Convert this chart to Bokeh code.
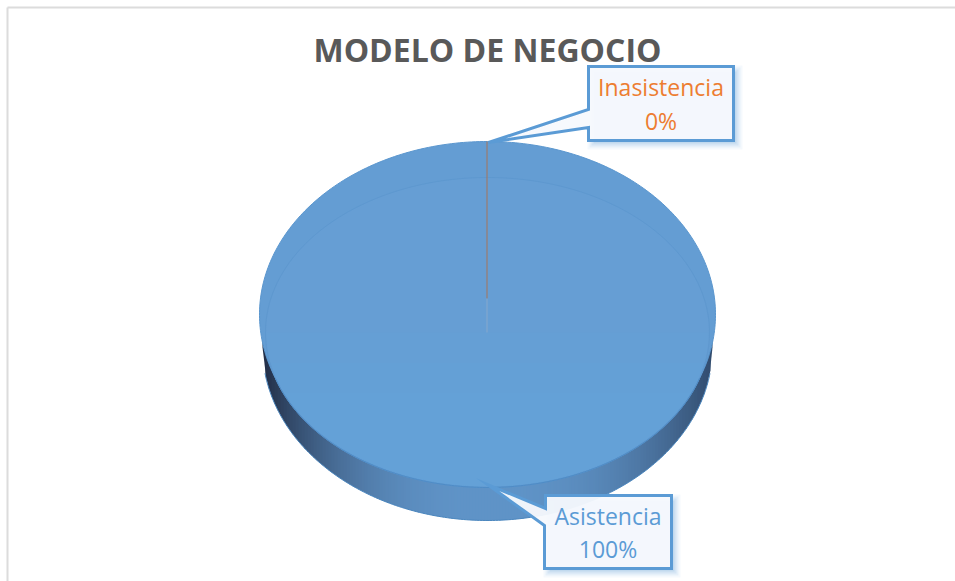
import numpy as np
from bokeh.plotting import figure
from bokeh.models import Range1d
from bokeh.embed import file_html
from bokeh.resources import INLINE
from bokeh.core.properties import value

categories = ["Asistencia", "Inasistencia"]
percent_values = [100, 0]
slice_colors = ["#669ED4", "#ED7D31"]
label_colors = ["#5B9BD5", "#ED7D31"]
chart_title = "MODELO DE NEGOCIO"

W, H = 955, 581
p = figure(width=W, height=H, output_backend="svg", toolbar_location=None,
           x_range=Range1d(0, W), y_range=Range1d(H, 0),
           min_border=0, margin=0, outline_line_color=None,
           background_fill_color="white", border_fill_color="white")
p.axis.visible = False
p.grid.visible = False

# chart frame
p.line([7, 7], [H, 7], line_color="#DCDCDC", line_width=2)
p.line([7, W], [7, 7], line_color="#DCDCDC", line_width=2)

# pie geometry
CX, CY, RX, RY = 487.0, 314.0, 228.0, 173.0
WALL_CY, WALL_RX, DEPTH = 332.0, 225.0, 15.0
IRX, ICY, IRY = 222.0, 332.0, 155.0


def ell(theta, cy=CY, rx=RX, ry=RY):
    # theta measured clockwise from 12 o'clock
    return CX + rx * np.sin(theta), cy - ry * np.cos(theta)


def wall_shade(m):
    u = (m - CX) / WALL_RX
    s = abs(u) ** 2.4
    if u < 0:
        return (int(96 - 62 * s), int(148 - 102 * s), int(200 - 130 * s))
    return (int(96 - 46 * s), int(148 - 72 * s), int(200 - 90 * s))


# side wall: vertical strips, lower half of an ellipse shifted down, dark at both ends
n = 150
xs = np.linspace(CX - WALL_RX, CX + WALL_RX, n + 1)
for i in range(n):
    a, b = xs[i], min(xs[i + 1] + 1.0, CX + WALL_RX)
    col = wall_shade((xs[i] + xs[i + 1]) / 2)
    arc = lambda q: (WALL_CY + DEPTH) + RY * np.sqrt(max(0.0, 1 - ((q - CX) / WALL_RX) ** 2))
    p.patch([a, b, b, a], [CY, CY, arc(b), arc(a)], fill_color=col, line_color=None)

# bottom rim of the wall
th = np.linspace(np.pi / 2 + 0.15, 3 * np.pi / 2 - 0.15, 200)
rx_, ry_ = ell(th, cy=WALL_CY + DEPTH, rx=WALL_RX)
p.line(rx_, ry_, line_color="#4A86BE", line_width=1)

# top face slices built from the values
total = sum(percent_values)
cum = np.cumsum([0] + percent_values) / total * 2 * np.pi
for i, cat in enumerate(categories):
    a0, a1 = cum[i], cum[i + 1]
    if a1 - a0 > 0:
        t = np.linspace(a0, a1, 360)
        x, y = ell(t)
        p.patch(x, y, fill_color="#649DD3", line_color="#5A96CE", line_width=1)

# inner bevel face
t = np.linspace(0, 2 * np.pi, 360)
ix, iy = ell(t, cy=ICY, rx=IRX, ry=IRY)
p.patch(ix, iy, fill_color=slice_colors[0], line_color="#5E98CF", line_width=1)
# progressively lighter lower part, in soft steps so there is no visible seam
for off in [0.35, 0.55, 0.75, 0.95, 1.15, 1.35]:
    lx, ly = ell(np.linspace(np.pi / 2 + off - 0.35, 3 * np.pi / 2 - off + 0.35, 120), cy=ICY, rx=IRX - 1, ry=IRY - 1)
    p.patch(lx, ly, fill_color="#66A5DA", fill_alpha=0.22, line_color=None)
lower_x, lower_y = ell(np.linspace(np.pi / 2 + 0.3, 3 * np.pi / 2 - 0.3, 180), cy=ICY, rx=IRX, ry=IRY)
p.line(lower_x, lower_y, line_color="#4F8CC6", line_width=1)

# the 0 % slice is a hairline
ang = cum[1] % (2 * np.pi)
sx, sy = ell(ang)
p.line([sx - 0.5, sx - 0.5], [sy, CY - 16], line_color="#A5745A", line_width=1)
p.line([sx - 0.5, sx - 0.5], [CY - 16, ICY], line_color="#86A8CC", line_width=1)

# callouts
boxes = {
    "Inasistencia": dict(l=588, r=733, t=66, b=140,
                         poly_x=[588, 733, 733, 588, 588, 488, 588],
                         poly_y=[66, 66, 140, 140, 127, 142, 109],
                         tx=660.5, ty1=86.5, ty2=120),
    "Asistencia": dict(l=544, r=671, t=495, b=568,
                       poly_x=[545, 671, 671, 544, 544, 487, 545],
                       poly_y=[495, 495, 568, 568, 525, 484, 508],
                       tx=607.5, ty1=515, ty2=548),
}
for i, cat in enumerate(categories):
    b = boxes[cat]
    for k, alpha in zip([9, 7, 5, 3], [0.06, 0.09, 0.12, 0.16]):
        p.patch([b["l"] + 8 - k, b["r"] + k, b["r"] + k, b["l"] + 8 - k],
                [b["t"] + 8 - k, b["t"] + 8 - k, b["b"] + k, b["b"] + k],
                fill_color="#5B9BD5", fill_alpha=alpha, line_color=None)
    p.patch(b["poly_x"], b["poly_y"], fill_color="#F7F9FD", fill_alpha=0.95, line_color="#5B9BD5",
            line_width=3, line_join="miter")
    p.text([b["tx"]], [b["ty1"]], text=[cat], text_color=label_colors[i], text_font=value("Open Sans"),
           text_font_size="23px", text_align="center", text_baseline="middle")
    p.text([b["tx"]], [b["ty2"]], text=[f"{percent_values[i]}%"], text_color=label_colors[i],
           text_font=value("Open Sans"), text_font_size="23px", text_align="center", text_baseline="middle")

p.text([487], [49], text=[chart_title], text_color="#595959", text_font=value("Open Sans"),
       text_font_style="bold", text_font_size="32px", text_align="center", text_baseline="middle")

open("out.html", "w").write(file_html(p, INLINE))
